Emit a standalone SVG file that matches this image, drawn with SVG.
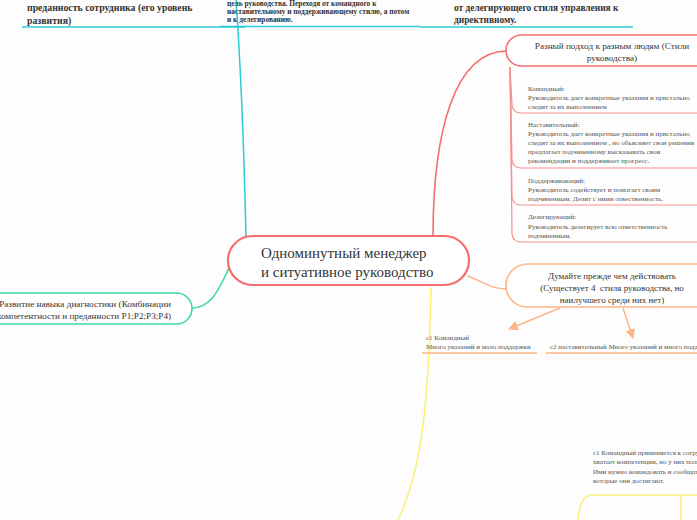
<svg xmlns="http://www.w3.org/2000/svg" width="697" height="520" viewBox="0 0 697 520">
<style>
.bg{fill:#fdfdfd}
.t{font-family:"Liberation Serif","DejaVu Serif",serif;fill:#333}
.b{font-weight:bold}
.s{font-family:"Liberation Serif","DejaVu Serif",serif;fill:#555;font-size:7px}
.cy{stroke:#2ccbd6;fill:none;stroke-width:1.5}
.rd{stroke:#f66d6d;fill:none;stroke-width:1.6}
.rl{stroke:#f88f8f;fill:none;stroke-width:1.2}
.gr{stroke:#3dd9a4;fill:none;stroke-width:1.6}
.or{stroke:#fdb486;fill:none;stroke-width:1.4}
.ye{stroke:#fbf07a;fill:none;stroke-width:1.6}
</style>
<defs>
<marker id="ah" viewBox="0 0 10 10" refX="9" refY="5" markerWidth="7" markerHeight="7" orient="auto">
<path d="M0,0 L10,5 L0,10 z" fill="#fdb486"/>
</marker>
</defs>
<rect class="bg" x="0" y="0" width="697" height="520"/>
<g id="connectors">
<path class="cy" d="M246,237 C244,150 241,70 236,0"/>
<path class="rd" d="M433,237 C433,130 455,52 506,51"/>
<path class="gr" d="M229,268 C218,292 210,308 192,308"/>
<path class="or" d="M468,276 C485,283 492,289 506,289"/>
<path class="ye" d="M431,287 C429,400 422,470 398,520"/>
<path class="or" d="M560,308 L509,329" marker-end="url(#ah)"/>
<path class="or" d="M623,308 L633,338" marker-end="url(#ah)"/>
<path class="rl" d="M510,67 L512,105 Q513,113 521,113 L697,113"/>
<path class="rl" d="M510,67 L512,160 Q513,168 521,168 L697,168"/>
<path class="rl" d="M510,67 L512,197 Q513,205 521,205 L697,205"/>
<path class="rl" d="M510,67 L512,234 Q513,242 521,242 L697,242"/>
<path class="ye" d="M578,520 Q580,495 592,495 L697,495"/>
<path class="ye" d="M681,495 L681,520"/>
</g>
<g id="top-left">
<text class="t b" font-size="9.8"><tspan x="27" y="11">преданность сотрудника (его уровень</tspan><tspan x="27" y="24">развития)</tspan></text>
<path class="cy" d="M22,27 L245,27"/>
</g>
<g id="top-middle">
<text class="t b" font-size="7.4"><tspan x="227" y="6">цель руководства. Переходя от командного к</tspan><tspan x="227" y="14">наставительному и поддерживающему стилю, а потом</tspan><tspan x="227" y="22">и к делегированию.</tspan></text>
<path class="cy" d="M220,26.5 L420,26.5"/>
</g>
<g id="top-right">
<text class="t b" font-size="9.4"><tspan x="454" y="11">от делегирующего стиля управления к</tspan><tspan x="454" y="23">директивному.</tspan></text>
<path class="cy" d="M420,27 L633,27"/>
</g>
<g id="center">
<rect x="228" y="236" width="241" height="49" rx="24.5" fill="#fff" stroke="#f66d6d" stroke-width="2.2"/>
<text class="t" font-size="15"><tspan x="261" y="258">Одноминутный менеджер</tspan><tspan x="261" y="277">и ситуативное руководство</tspan></text>
</g>
<g id="styles">
<rect x="506" y="35" width="220" height="31" rx="15.5" fill="#fff" stroke="#f66d6d" stroke-width="1.6"/>
<text class="t" font-size="9.2" text-anchor="middle"><tspan x="612" y="49">Разный подход к разным людям (Стили</tspan><tspan x="612" y="61">руководства)</tspan></text>
</g>
<g id="s1">
<text class="s"><tspan x="528" y="91">Командный:</tspan><tspan x="528" y="100">Руководитель дает конкретные указания и пристально</tspan><tspan x="528" y="109">следит за их выполнением</tspan></text>
</g>
<g id="s2">
<text class="s"><tspan x="528" y="127">Наставительный:</tspan><tspan x="528" y="136">Руководитель дает конкретные указания и пристально</tspan><tspan x="528" y="145">следит за их выполнением , но объясняет свои решения</tspan><tspan x="528" y="154">предлагает подчиненному высказывать свои</tspan><tspan x="528" y="163">рекомендации и поддерживает прогресс.</tspan></text>
</g>
<g id="s3">
<text class="s"><tspan x="528" y="183">Поддерживающий:</tspan><tspan x="528" y="192">Руководитель содействует и помогает своим</tspan><tspan x="528" y="201">подчиненным. Делит с ними отвественность.</tspan></text>
</g>
<g id="s4">
<text class="s"><tspan x="528" y="219">Делегирующий:</tspan><tspan x="528" y="229">Руководитель делегирует всю ответственность</tspan><tspan x="528" y="238">подчиненным.</tspan></text>
</g>
<g id="diagnostics">
<rect x="-40" y="293" width="232" height="31" rx="15.5" fill="#fff" stroke="#3dd9a4" stroke-width="1.6"/>
<text class="t" font-size="9.2" text-anchor="middle"><tspan x="85" y="307">Развитие навыка диагностики (Комбинации</tspan><tspan x="84" y="319">компетентности и преданности P1;P2;P3;P4)</tspan></text>
</g>
<g id="think">
<rect x="506" y="264" width="220" height="43" rx="21.5" fill="#fff" stroke="#fdb486" stroke-width="1.6"/>
<text class="t" font-size="9" text-anchor="middle"><tspan x="612" y="279">Думайте прежде чем действовать</tspan><tspan x="612" y="291" xml:space="preserve">(Существует 4  стиля руководства, но</tspan><tspan x="612" y="303">наилучшего среди них нет)</tspan></text>
</g>
<g id="c1">
<text class="s"><tspan x="426" y="340">с1 Командный</tspan><tspan x="426" y="349">Много указаний и мало поддержки</tspan></text>
<path class="or" d="M422,353 L537,353"/>
</g>
<g id="c2">
<text class="s"><tspan x="550" y="349">с2 наставительный Много указаний и много поддержки</tspan></text>
<path class="or" d="M546,353 L697,353"/>
</g>
<g id="c1-use">
<text class="s"><tspan x="593" y="455">с1 Командный применяется к сотрудникам, у которых не</tspan><tspan x="593" y="464">хватает компетенции, но у них полно энтузиазма.</tspan><tspan x="593" y="474">Ими нужно командовать и сообщать о результатах,</tspan><tspan x="593" y="483">которые они достигают.</tspan></text>
</g>
<g id="c2-use">
<text class="s"><tspan x="594" y="525">с2 Н</tspan></text>
</g>
</svg>
